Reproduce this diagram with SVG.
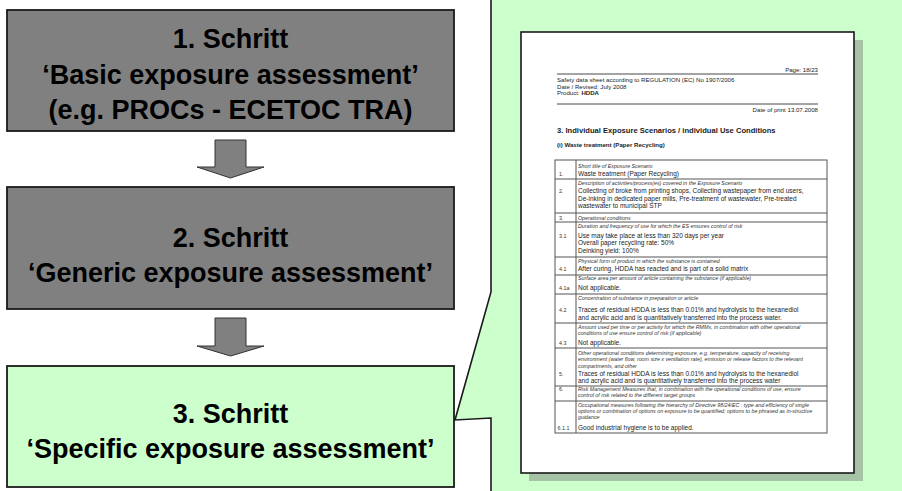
<svg xmlns="http://www.w3.org/2000/svg" width="902" height="491" viewBox="0 0 902 491">
  <style>
    .box { stroke: #1a1a1a; stroke-width: 1.8; }
    .grey { fill: #808080; }
    .green { fill: #ccffcc; }
    .step { font-family: "Liberation Sans", Arial, sans-serif; font-weight: bold; font-size: 27px; fill: #000; text-anchor: middle; }
    .arrow { fill: #808080; stroke: #333; stroke-width: 1; }
    .doc { font-family: "Liberation Sans", Arial, sans-serif; fill: #222; }
    .hd { font-size: 6.1px; }
    .h1 { font-size: 7.6px; font-weight: bold; }
    .h2 { font-size: 6.1px; font-weight: bold; }
    .lbl { font-size: 5.3px; font-style: italic; fill: #333; }
    .txt { font-size: 6.5px; }
    .num { font-size: 5.4px; fill: #333; }
    .rule { stroke: #333; stroke-width: 0.9; }
    .grid { stroke: #555; stroke-width: 1; fill: none; }
  </style>

  <!-- step 1 -->
  <g id="step1">
    <rect class="box grey" x="7" y="10" width="447" height="121"/>
    <text class="step" x="230.5" y="48">1. Schritt</text>
    <text class="step" x="230.5" y="84">‘Basic exposure assessment’</text>
    <text class="step" x="230.5" y="119">(e.g. PROCs - ECETOC TRA)</text>
  </g>

  <!-- step 2 -->
  <g id="step2">
    <rect class="box grey" x="7" y="187" width="447" height="122"/>
    <text class="step" x="230.5" y="247">2. Schritt</text>
    <text class="step" x="230.5" y="282">‘Generic exposure assessment’</text>
  </g>

  <!-- step 3 -->
  <g id="step3">
    <rect class="box green" x="7" y="366" width="447" height="121"/>
    <text class="step" x="230.5" y="423">3. Schritt</text>
    <text class="step" x="230.5" y="458">‘Specific exposure assessment’</text>
  </g>

  <!-- block arrows between the steps -->
  <g id="connectors">
    <path class="arrow" d="M215,140 H246 V167 H264 L230.5,178 L197,167 H215 Z"/>
    <path class="arrow" d="M215,318 H246 V346 H264 L230.5,356 L197,346 H215 Z"/>
  </g>

  <!-- callout with the safety data sheet page -->
  <g id="callout">
    <path d="M491,-5 V292 L455,420 L491,418 V496 H907 V-5 Z" fill="#ccffcc" stroke="#1a1a1a" stroke-width="1.6"/>
    <rect x="529" y="40" width="334" height="441" fill="#a6c3a6"/>
    <rect x="521" y="32" width="333" height="441" fill="#ffffff" stroke="#1a1a1a" stroke-width="1.6"/>

    <g class="doc">
      <text class="hd" x="818" y="72" text-anchor="end">Page: 18/23</text>
      <line class="rule" x1="557" y1="74" x2="818" y2="74"/>
      <text class="hd" x="557" y="82">Safety data sheet according to REGULATION (EC) No 1907/2006</text>
      <text class="hd" x="557" y="88.5">Date / Revised: July 2008</text>
      <text class="hd" x="557" y="95">Product: <tspan font-weight="bold">HDDA</tspan></text>
      <line class="rule" x1="557" y1="104" x2="818" y2="104"/>
      <text class="hd" x="818" y="112" text-anchor="end">Date of print 13.07.2008</text>
      <text class="h1" x="557" y="133">3. Individual Exposure Scenarios / individual Use Conditions</text>
      <text class="h2" x="557" y="147">(i) Waste treatment (Paper Recycling)</text>

      <!-- table frame and rows -->
      <rect class="grid" x="555" y="160" width="272" height="273"/>
      <line class="grid" x1="576" y1="160" x2="576" y2="433"/>
      <path class="grid" d="M555,179 H827 M555,213 H827 M555,222 H827 M555,257 H827 M555,275 H827 M555,294 H827 M555,323 H827 M555,348 H827 M555,386 H827 M555,401 H827"/>

      <!-- row numbers -->
      <text class="num" x="559" y="176">1.</text>
      <text class="num" x="559" y="193">2.</text>
      <text class="num" x="559" y="219.5">3.</text>
      <text class="num" x="559" y="237.5">3.1</text>
      <text class="num" x="559" y="271">4.1</text>
      <text class="num" x="559" y="290">4.1a</text>
      <text class="num" x="559" y="312">4.2</text>
      <text class="num" x="559" y="345">4.3</text>
      <text class="num" x="559" y="376">5.</text>
      <text class="num" x="559" y="390.5">6.</text>
      <text class="num" x="557.5" y="429.5">6.1.1</text>

      <!-- row headings -->
      <text class="lbl" x="578" y="167.5">Short title of Exposure Scenario</text>
      <text class="lbl" x="578" y="184.5">Description of activities/process(es) covered in the Exposure Scenario</text>
      <text class="lbl" x="578" y="219.5">Operational conditions</text>
      <text class="lbl" x="578" y="227.5">Duration and frequency of use for which the ES ensures control of risk</text>
      <text class="lbl" x="578" y="262.5">Physical form of product in which the substance is contained</text>
      <text class="lbl" x="578" y="279.5">Surface area per amount of article containing the substance (if applicable)</text>
      <text class="lbl" x="578" y="299.5">Concentration of substance in preparation or article</text>
      <text class="lbl" x="578" y="328.5">Amount used per time or per activity for which the RMMs, in combination with other operational</text>
      <text class="lbl" x="578" y="334.5">conditions of use ensure control of risk (if applicable)</text>
      <text class="lbl" x="578" y="354.5">Other operational conditions determining exposure, e.g. temperature, capacity of receiving</text>
      <text class="lbl" x="578" y="361">environment (water flow, room size x ventilation rate), emission or release factors to the relevant</text>
      <text class="lbl" x="578" y="367.5">compartments, and other</text>
      <text class="lbl" x="578" y="390.5">Risk Management Measures that, in combination with the operational conditions of use, ensure</text>
      <text class="lbl" x="578" y="396.5">control of risk related to the different target groups</text>
      <text class="lbl" x="578" y="407">Occupational measures following the hierarchy of Directive 98/24/EC : type and efficiency of single</text>
      <text class="lbl" x="578" y="413">options or combination of options on exposure to be quantified; options to be phrased as in-structive</text>
      <text class="lbl" x="578" y="419">guidance</text>

      <!-- row contents -->
      <text class="txt" x="578" y="176">Waste treatment (Paper Recycling)</text>
      <text class="txt" x="578" y="193">Collecting of broke from printing shops, Collecting wastepaper from end users,</text>
      <text class="txt" x="578" y="200.5">De-inking in dedicated paper mills, Pre-treatment of wastewater, Pre-treated</text>
      <text class="txt" x="578" y="208">wastewater to municipal STP</text>
      <text class="txt" x="578" y="237.5">Use may take place at less than 320 days per year</text>
      <text class="txt" x="578" y="245">Overall paper recycling rate: 50%</text>
      <text class="txt" x="578" y="252.5">Deinking yield: 100%</text>
      <text class="txt" x="578" y="271">After curing, HDDA has reacted and is part of a solid matrix</text>
      <text class="txt" x="578" y="290">Not applicable.</text>
      <text class="txt" x="578" y="312">Traces of residual HDDA is less than 0.01% and hydrolysis to the hexanediol</text>
      <text class="txt" x="578" y="319.5">and acrylic acid and is quantitatively transferred into the process water.</text>
      <text class="txt" x="578" y="345">Not applicable.</text>
      <text class="txt" x="578" y="376">Traces of residual HDDA is less than 0.01% and hydrolysis to the hexanediol</text>
      <text class="txt" x="578" y="383">and acrylic acid and is quantitatively transferred into the process water</text>
      <text class="txt" x="578" y="429.5">Good industrial hygiene is to be applied.</text>
    </g>
  </g>
</svg>
